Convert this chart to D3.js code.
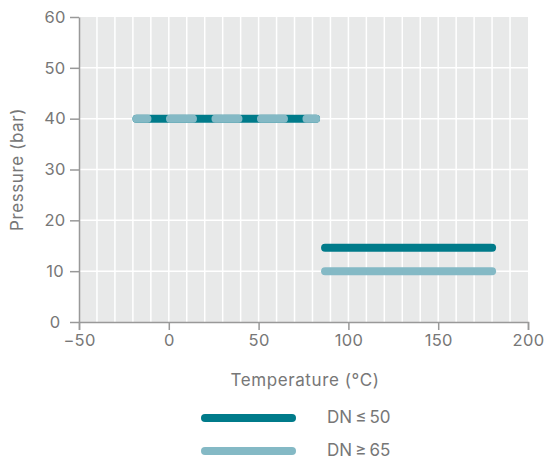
<!DOCTYPE html>
<html><head><meta charset="utf-8">
<script src="https://cdn.jsdelivr.net/npm/d3@7"></script>
<style>body{margin:0;background:#fff}svg{display:block}text{font-family:Inter,"Noto Sans",sans-serif}</style>
</head><body><svg id="c" width="546" height="459"></svg>
<script>
const xTicks = [-50, 0, 50, 100, 150, 200];
const yTicks = [0, 10, 20, 30, 40, 50, 60];
const seriesNames = ["DN\u2009\u2264\u200950", "DN\u2009\u2265\u200965"];
const seriesColors = ["#007b8a", "#84b9c5"];
// segments: [xStart, xEnd, pressure]
const dn50Segments = [[-18, 82, 40], [87, 180, 14.6]];
const dn65Segments = [[-18, 82, 40], [87, 180, 10]];

const svg = d3.select("#c");
const x = d3.scaleLinear().domain([-50, 200]).range([79, 528]);
const y = d3.scaleLinear().domain([0, 60]).range([322, 17]);
const grey = "#777";

svg.append("rect").attr("x", x(-50)).attr("y", y(60))
  .attr("width", x(200) - x(-50)).attr("height", y(0) - y(60)).attr("fill", "#e8e9e9");
const g = svg.append("g");
d3.range(-40, 200, 10).forEach(v => g.append("line").attr("x1", x(v)).attr("x2", x(v))
  .attr("y1", y(0)).attr("y2", y(60)).attr("stroke", "#fff").attr("stroke-width", 1.5));
d3.range(10, 60, 10).forEach(v => g.append("line").attr("y1", y(v)).attr("y2", y(v))
  .attr("x1", x(-50)).attr("x2", x(200)).attr("stroke", "#fff").attr("stroke-width", 1.5));

const xa = svg.append("g").attr("transform", `translate(0,${y(0)})`)
  .call(d3.axisBottom(x).tickValues(xTicks).tickSize(8).tickPadding(4).tickFormat(d => d < 0 ? "\u2212" + (-d) : d));
xa.select(".domain").attr("stroke", "#999").attr("stroke-width", 1.5);
xa.selectAll(".tick line").attr("stroke", "#999").attr("stroke-width", 1.5);
xa.selectAll("text").attr("fill", grey).attr("font-size", 16.5).attr("letter-spacing", 0.3);

const ya = svg.append("g").attr("transform", `translate(${x(-50)},0)`)
  .call(d3.axisLeft(y).tickValues(yTicks).tickSize(9).tickSizeOuter(0));
ya.select(".domain").attr("stroke", "#999").attr("stroke-width", 1.5);
ya.selectAll(".tick line").attr("stroke", "#999").attr("stroke-width", 1.5);
ya.selectAll("text").attr("fill", grey).attr("font-size", 16.5).attr("letter-spacing", 0.3)
  .attr("text-anchor", "middle").attr("x", -24);

svg.append("text").attr("x", 305).attr("y", 386).attr("text-anchor", "middle")
  .attr("fill", grey).attr("font-size", 17).attr("letter-spacing", 0.6).text("Temperature (\u00b0C)");
svg.append("text").attr("transform", `translate(23,${y(30)}) rotate(-90)`).attr("text-anchor", "middle")
  .attr("fill", grey).attr("font-size", 17).attr("letter-spacing", 0.6).text("Pressure (bar)");

const line = (s, color, dash) => {
  const l = svg.append("line").attr("x1", x(s[0])).attr("x2", x(s[1]))
    .attr("y1", y(s[2])).attr("y2", y(s[2])).attr("stroke", color)
    .attr("stroke-width", 8).attr("stroke-linecap", "round");
  if (dash) l.attr("stroke-dasharray", "23 22.5").attr("stroke-dashoffset", 12);
};
line(dn50Segments[0], seriesColors[0]);
line(dn65Segments[0], seriesColors[1], true);
line(dn50Segments[1], seriesColors[0]);
line(dn65Segments[1], seriesColors[1]);

seriesNames.forEach((n, i) => {
  const ly = 418 + i * 33;
  svg.append("line").attr("x1", 205).attr("x2", 292).attr("y1", ly).attr("y2", ly)
    .attr("stroke", seriesColors[i]).attr("stroke-width", 8).attr("stroke-linecap", "round");
  svg.append("text").attr("x", 327).attr("y", ly + 4.5).attr("fill", grey).attr("font-size", 17).text(n);
});
</script></body></html>
